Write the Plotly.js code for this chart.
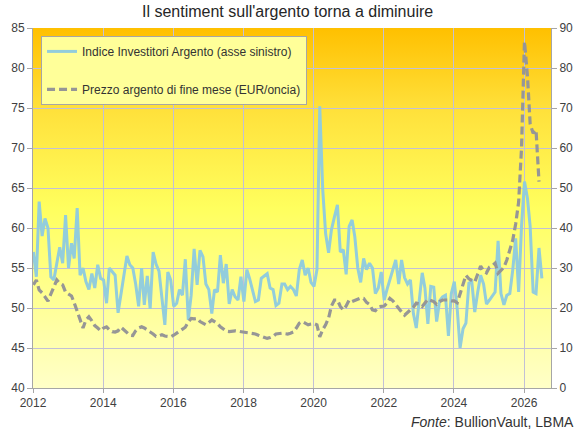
<!DOCTYPE html>
<html>
<head>
<meta charset="utf-8">
<script src="https://cdn.plot.ly/plotly-3.0.1.min.js"></script>
<style>html,body{margin:0;padding:0;background:#fff;}#chart{width:581px;height:437px;}</style>
</head>
<body>
<div id="chart"></div>
<script>
// Monthly series starting January 2012
var startYear = 2012;
var startMonth = 1;

// Indice Investitori Argento (left axis)
var sentiment = [
  57.0, 53.9, 63.3, 59.0, 61.2, 60.0, 53.9, 53.5, 55.6, 57.6,
  55.6, 61.6, 55.0, 58.1, 56.2, 62.5, 54.1, 55.0, 53.3, 52.3,
  54.3, 52.5, 55.4, 53.7, 53.5, 50.6, 55.0, 54.5, 54.1, 49.4,
  51.7, 54.0, 56.5, 55.4, 55.0, 53.0, 50.2, 55.0, 50.4, 54.0,
  49.9, 57.0, 55.5, 54.6, 51.0, 47.9, 54.5, 53.5, 50.2, 50.6,
  52.3, 51.6, 56.1, 48.5, 51.6, 57.4, 52.9, 57.2, 56.4, 53.0,
  52.3, 49.3, 52.3, 52.0, 56.6, 53.1, 55.5, 50.5, 52.3, 51.4,
  51.0, 53.9, 50.8, 54.8, 53.7, 52.3, 50.8, 51.0, 53.7, 54.0,
  54.3, 52.5, 52.3, 50.3, 50.6, 53.0, 53.0, 52.3, 52.7, 52.3,
  51.5, 54.8, 56.0, 54.1, 55.0, 53.2, 52.7, 54.8, 75.2, 64.8,
  59.3, 56.9, 59.8, 61.4, 62.9, 57.0, 57.3, 54.2, 60.2, 61.0,
  58.9, 55.0, 53.2, 56.2, 54.8, 55.6, 55.0, 51.8, 52.5, 54.5,
  51.0, 52.4, 53.5, 54.8, 56.0, 53.0, 56.0, 53.8, 53.0, 53.5,
  49.3, 47.5, 51.0, 54.4, 52.5, 48.0, 52.7, 52.6, 48.3, 50.9,
  51.4, 51.6, 46.5, 51.8, 53.3, 49.8, 45.0, 47.4, 48.1, 53.1,
  53.3, 49.5, 52.0, 54.1, 53.0, 50.5, 51.0, 51.5, 52.0, 58.4,
  51.8, 50.4, 51.6, 51.8, 54.8, 58.7, 52.0, 60.2, 65.8, 63.7,
  60.2, 52.0, 51.8, 57.5, 53.7
];

// Prezzo argento di fine mese, EUR/oncia (right axis)
var price = [
  25.8, 27.0, 24.5, 23.8, 22.8, 21.7, 23.5, 25.2, 27.0, 26.2,
  25.8, 24.0, 23.5, 23.0, 21.3, 19.2, 17.0, 15.0, 17.0, 17.8,
  16.8, 15.6, 15.0, 14.3, 15.0, 15.3, 14.6, 14.1, 14.0, 14.3,
  15.2, 14.5, 13.7, 13.2, 13.1, 14.3, 15.0, 15.3, 15.0, 14.6,
  14.0, 13.5, 12.9, 13.0, 13.3, 13.0, 12.8, 12.8, 13.2, 13.7,
  14.2, 14.8, 15.2, 16.5, 17.4, 17.3, 17.4, 16.6, 16.1, 15.8,
  16.4, 17.0, 16.6, 16.1, 15.3, 14.7, 14.2, 14.1, 14.3, 14.3,
  14.2, 14.1, 13.9, 13.7, 13.7, 13.7, 13.5, 13.2, 13.0, 12.7,
  12.4, 12.6, 12.9, 13.5, 13.7, 13.7, 13.6, 13.5, 13.7, 14.0,
  15.0, 16.2, 16.6, 16.1, 15.8, 16.0, 16.1, 15.8, 12.8, 14.6,
  15.8, 17.5, 20.5, 22.0, 22.0, 20.4, 19.5, 20.5, 22.0, 21.6,
  21.9, 22.2, 22.5, 22.4, 21.4, 20.9, 19.5, 19.3, 20.2, 20.4,
  20.5, 21.3, 22.4, 21.8, 20.8, 20.0, 19.0, 18.2, 18.8, 19.4,
  20.2, 21.2, 21.0, 20.4, 21.2, 22.2, 21.9, 21.6, 20.9, 21.6,
  22.0, 22.0, 22.0, 21.8, 21.8, 21.3, 23.5, 26.5, 28.2, 27.3,
  27.0, 26.5, 28.5, 30.5, 29.3, 28.8, 30.2, 30.6, 31.2, 28.7,
  29.4, 30.2, 32.0, 34.3, 37.0, 41.0, 46.5, 60.0, 86.6, 78.0,
  66.0, 63.7, 64.5, 51.6
];

var xTickLabels = ['2012','2014','2016','2018','2020','2022','2024','2026'];
var seriesNames = ['Indice Investitori Argento (asse sinistro)', 'Prezzo argento di fine mese (EUR/oncia)'];

function monthDates(n) {
  var out = [];
  for (var i = 0; i < n; i++) {
    var y = startYear + Math.floor((startMonth - 1 + i) / 12);
    var m = (startMonth - 1 + i) % 12 + 1;
    out.push(y + '-' + (m < 10 ? '0' + m : m) + '-05');
  }
  return out;
}

var tickVals = xTickLabels.map(function (t) { return t + '-01-01'; });

var traces = [
  {
    x: monthDates(sentiment.length), y: sentiment, name: seriesNames[0],
    type: 'scatter', mode: 'lines', yaxis: 'y', legendgroup: 'a',
    line: {color: '#92CDDC', width: 3}
  },
  {
    x: monthDates(price.length), y: price, name: seriesNames[1],
    type: 'scatter', mode: 'lines', yaxis: 'y2', legendgroup: 'b',
    line: {color: '#969696', width: 3.2, dash: '8px,4px'}
  }
];

var grad = '<svg xmlns="http://www.w3.org/2000/svg" width="10" height="100" viewBox="0 0 10 100" preserveAspectRatio="none">' +
  '<defs><linearGradient id="g" x1="0" y1="0" x2="0" y2="1">' +
  '<stop offset="0" stop-color="#FFC000"/><stop offset="0.22" stop-color="#FFE03A"/>' +
  '<stop offset="0.5" stop-color="#FFFF5E"/><stop offset="1" stop-color="#FFFFC8"/>' +
  '</linearGradient></defs><rect x="0" y="0" width="10" height="100" fill="url(#g)"/></svg>';

var font = 'Liberation Sans, Arial, sans-serif';

var layout = {
  width: 581, height: 437,
  margin: {l: 33, r: 30, t: 28, b: 49, pad: 0},
  paper_bgcolor: '#FFFFFF',
  plot_bgcolor: 'rgba(0,0,0,0)',
  font: {family: font, size: 12, color: '#404040'},
  title: {text: "Il sentiment sull'argento torna a diminuire", x: 0.495, xref: 'container', y: 0.974, yanchor: 'middle',
          font: {family: font, size: 16, color: '#262626'}},
  showlegend: true,
  legend: {x: 0.0155, y: 0.978, xanchor: 'left', yanchor: 'top', bgcolor: '#FFFF99', bordercolor: '#A6A6A6', borderwidth: 1,
           font: {family: font, size: 12, color: '#333333'}, tracegroupgap: 19, itemwidth: 30},
  xaxis: {
    type: 'date', range: ['2012-01-01', '2026-10-08'],
    tickmode: 'array', tickvals: tickVals, ticktext: xTickLabels,
    showgrid: true, gridcolor: '#C2C0D6', gridwidth: 1,
    showline: true, linecolor: '#A6A6A6', linewidth: 1, mirror: false,
    ticks: 'outside', ticklen: 4, tickcolor: '#A6A6A6',
    tickfont: {family: font, size: 12, color: '#404040'}, zeroline: false, fixedrange: true
  },
  yaxis: {
    range: [40, 85], dtick: 5, tick0: 40,
    showgrid: true, gridcolor: '#C2C0D6', gridwidth: 1,
    showline: true, linecolor: '#A6A6A6', linewidth: 1,
    ticks: 'outside', ticklen: 5, tickcolor: '#A6A6A6',
    tickfont: {family: font, size: 12, color: '#404040'}, zeroline: false
  },
  yaxis2: {
    range: [0, 90], dtick: 10, tick0: 0, overlaying: 'y', side: 'right',
    showgrid: false, showline: true, linecolor: '#A6A6A6', linewidth: 1,
    ticks: 'outside', ticklen: 5, tickcolor: '#A6A6A6',
    tickfont: {family: font, size: 12, color: '#404040'}, zeroline: false
  },
  images: [{
    source: 'data:image/svg+xml;charset=utf-8,' + encodeURIComponent(grad),
    xref: 'paper', yref: 'paper', x: 0, y: 1, sizex: 1, sizey: 1,
    xanchor: 'left', yanchor: 'top', sizing: 'stretch', layer: 'below'
  }],
  annotations: [{
    text: '<i>Fonte</i>: BullionVault, LBMA', xref: 'paper', yref: 'paper',
    x: 1.048, y: -0.094, xanchor: 'right', yanchor: 'middle', showarrow: false,
    font: {family: font, size: 14, color: '#333333'}
  }]
};

Plotly.newPlot('chart', traces, layout, {displayModeBar: false, staticPlot: true});
</script>
</body>
</html>
